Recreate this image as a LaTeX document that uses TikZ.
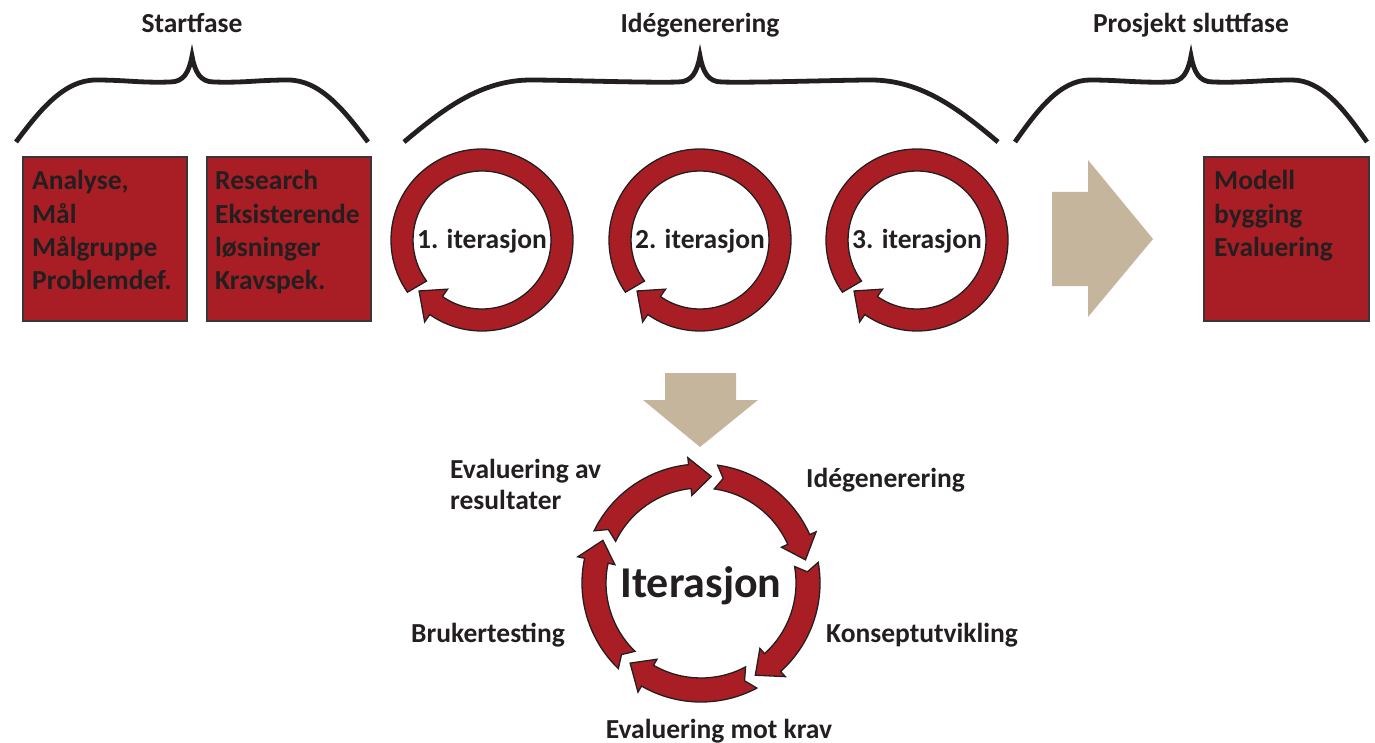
\documentclass[tikz,border=0pt]{standalone}
\usepackage{fontspec}
\setmainfont{Carlito}
\definecolor{ink}{HTML}{231F20}
\definecolor{edge}{HTML}{3A3536}
\definecolor{crimson}{HTML}{A81E24}
\definecolor{sand}{HTML}{C5B59C}
\newcommand\lbl{\fontsize{27.5}{33.3}\selectfont\bfseries}
\newcommand\biglbl{\fontsize{44}{50}\selectfont\bfseries}
% curly brace: left end, tip, right end, shoulder distance
\newcommand\phasebrace[4]{%
  \pgfmathsetmacro\ba{#1+0.3*#4}\pgfmathsetmacro\bb{#1+0.6*#4}\pgfmathsetmacro\bc{#1+#4}%
  \pgfmathsetmacro\bd{#2-22}\pgfmathsetmacro\be{#2-8}\pgfmathsetmacro\bf{#2-3}%
  \pgfmathsetmacro\bg{#2+3}\pgfmathsetmacro\bh{#2+8}\pgfmathsetmacro\bi{#2+22}%
  \pgfmathsetmacro\bj{#3-#4}\pgfmathsetmacro\bk{#3-0.6*#4}\pgfmathsetmacro\bl{#3-0.3*#4}%
  \draw[bracestyle] (#1,142) .. controls (\ba,110) and (\bb,80) .. (\bc,80)
    .. controls (\bc+30,80) and (\bd-30,83) .. (\bd,82)
    .. controls (\be,82) and (\bf,72) .. (#2,56)
    .. controls (\bg,72) and (\bh,82) .. (\bi,82)
    .. controls (\bi+30,83) and (\bj-30,80) .. (\bj,80)
    .. controls (\bk,80) and (\bl,110) .. (#3,142);}
% circular arrow of one iteration round
\newcommand\iterring[1]{%
  \begin{scope}[shift={(#1)}]
    \filldraw[ringarrow] (145:91) arc[start angle=145, end angle=485, radius=91]
      -- (485:100) -- (501:81) -- (485:60) -- (485:69)
      arc[start angle=485, end angle=143.5, radius=69] -- cycle;
  \end{scope}}
\begin{document}
\begin{tikzpicture}[x=1pt,y=-1pt,
  bracestyle/.style={draw=ink, line width=4.8pt},
  redbox/.style={draw=edge, line width=1.5pt, fill=crimson},
  ringarrow/.style={fill=crimson, draw=ink, line width=1.3pt, line join=miter},
  label/.style={font=\lbl, text=ink, inner sep=0pt},
  boxtext/.style={label, anchor=base west},
  heading/.style={label, anchor=base}]
\useasboundingbox (0,0) rectangle (1375,743);

% phase headings and braces
\node[heading] (hstart) at (192,33) {Startfase};
\node[heading] (hidea) at (700,33) {Idégenerering};
\node[heading] (hend) at (1191,33) {Prosjekt sluttfase};
\phasebrace{16}{192}{368}{80}
\phasebrace{404}{700}{998}{127}
\phasebrace{1015}{1191}{1367}{75}

% start phase boxes
\draw[redbox] (23,157) rectangle (187,321);
\draw[redbox] (207,157) rectangle (371,321);
\node[boxtext] (analyse) at (32,190) {\vtop{\hbox{Analyse,}\hbox{Mål}\hbox{Målgruppe}\hbox{Problemdef.}}};
\node[boxtext] (research) at (215,190) {\vtop{\hbox{Research}\hbox{Eksisterende}\hbox{løsninger}\hbox{Kravspek.}}};

% iteration rounds
\iterring{482,240}
\iterring{700,240}
\iterring{917,240}
\node[heading] (it1) at (482,248) {1. iterasjon};
\node[heading] (it2) at (700,248) {2. iterasjon};
\node[heading] (it3) at (917,248) {3. iterasjon};

% transition arrows
\fill[sand] (1052,192) -- (1088,192) -- (1088,160) -- (1153,239) -- (1088,317)
  -- (1088,286) -- (1052,286) -- cycle;
\fill[sand] (665,373) -- (736,373) -- (736,400) -- (758,400) -- (700,447)
  -- (643,400) -- (665,400) -- cycle;

% end phase box
\draw[redbox] (1204,157) rectangle (1369,321);
\node[boxtext] (modell) at (1214,190) {\vtop{\hbox{Modell}\hbox{bygging}\hbox{Evaluering}}};

% iteration cycle
\begin{scope}[shift={(701,583)}]
  \foreach \g/\h in {276/348, 348/420, 60/132, 132/204, 204/276}{
    \pgfmathsetmacro\ta{\g+2}
    \pgfmathsetmacro\tn{\g+6}
    \pgfmathsetmacro\hb{\h-12}
    \pgfmathsetmacro\hp{\h-0.5}
    \filldraw[ringarrow] (\ta:119) arc[start angle=\ta, end angle=\hb, radius=119]
      -- (\hb:126) -- (\hp:107) -- (\hb:88) -- (\hb:95)
      arc[start angle=\hb, end angle=\ta, radius=95] -- (\tn:107) -- cycle;
  }
\end{scope}
\node[label, anchor=base] (iter) at (701,597) {\biglbl Iterasjon};
\node[boxtext] (evres) at (450,478) {\vtop{\baselineskip=31pt\hbox{Evaluering av}\hbox{resultater}}};
\node[boxtext] (idea) at (806,487) {Idégenerering};
\node[boxtext] (konsept) at (826,642) {Konseptutvikling};
\node[boxtext] (bruker) at (411,642) {Brukertesting};
\node[heading] (evkrav) at (719,738) {Evaluering mot krav};
\end{tikzpicture}
\end{document}
